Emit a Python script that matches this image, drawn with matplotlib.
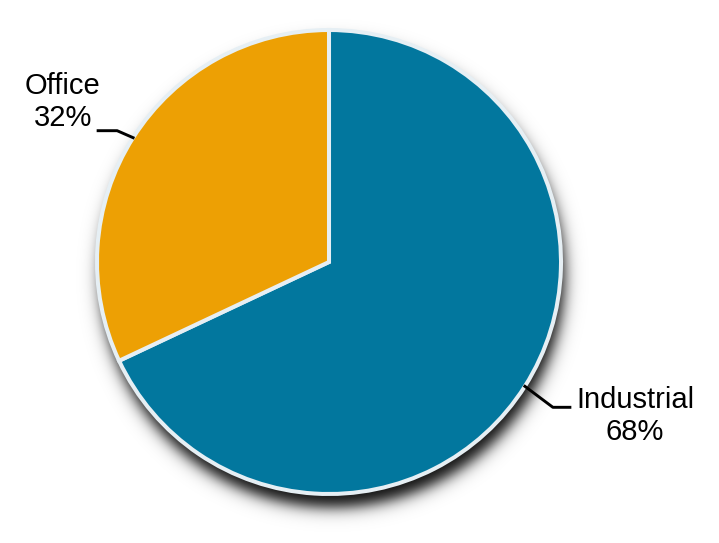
import matplotlib.pyplot as plt
import numpy as np

# data
labels = ["Industrial", "Office"]
shares = [68, 32]
colors = ["#02779e", "#eda004"]

W, H = 719, 543
fig = plt.figure(figsize=(W / 100, H / 100), dpi=100)
ax = fig.add_axes([0, 0, 1, 1])

cx, cy, R = 329, H - 262, 232

# soft drop shadow, offset mostly downward
yy, xx = np.mgrid[0:H, 0:W]
d = np.hypot(xx - (cx + 3), (H - yy) - (cy - 13))
alpha = 0.95 / (1 + np.exp((d - R) / 4.5))
shadow = np.zeros((H, W, 4))
shadow[..., 3] = alpha
ax.imshow(shadow, extent=(0, W, 0, H), origin="upper", zorder=0)

wedges, _ = ax.pie(shares, colors=colors, startangle=90, counterclock=False,
                   center=(cx, cy), radius=R, frame=True,
                   wedgeprops=dict(edgecolor="#e6eff4", linewidth=2.9))
for w in wedges:
    w.set_zorder(2)
ax.set_xlim(0, W)
ax.set_ylim(0, H)
ax.set_aspect("equal")
ax.axis("off")

font = dict(family=["Liberation Sans", "DejaVu Sans"], fontsize=21,
            ha="center", va="center", linespacing=1.2)

# leader lines start at each wedge's mid-angle on the rim
def rim(w):
    a = np.deg2rad((w.theta1 + w.theta2) / 2)
    return cx + R * np.cos(a), cy + R * np.sin(a)

# Industrial
x0, y0 = rim(wedges[0])
ax.plot([x0, x0 + 28, x0 + 45], [y0, y0 - 21, y0 - 21], color="black", lw=2.1, zorder=3)
ax.text(635, H - 416, f"{labels[0]}\n{shares[0]}%", **font)

# Office
x0, y0 = rim(wedges[1])
ax.plot([x0, x0 - 16, x0 - 35], [y0, y0 + 7, y0 + 7], color="black", lw=2.1, zorder=3)
ax.text(63, H - 102, f"{labels[1]}\n{shares[1]}%", **font)

fig.savefig("out.png", dpi=100)
